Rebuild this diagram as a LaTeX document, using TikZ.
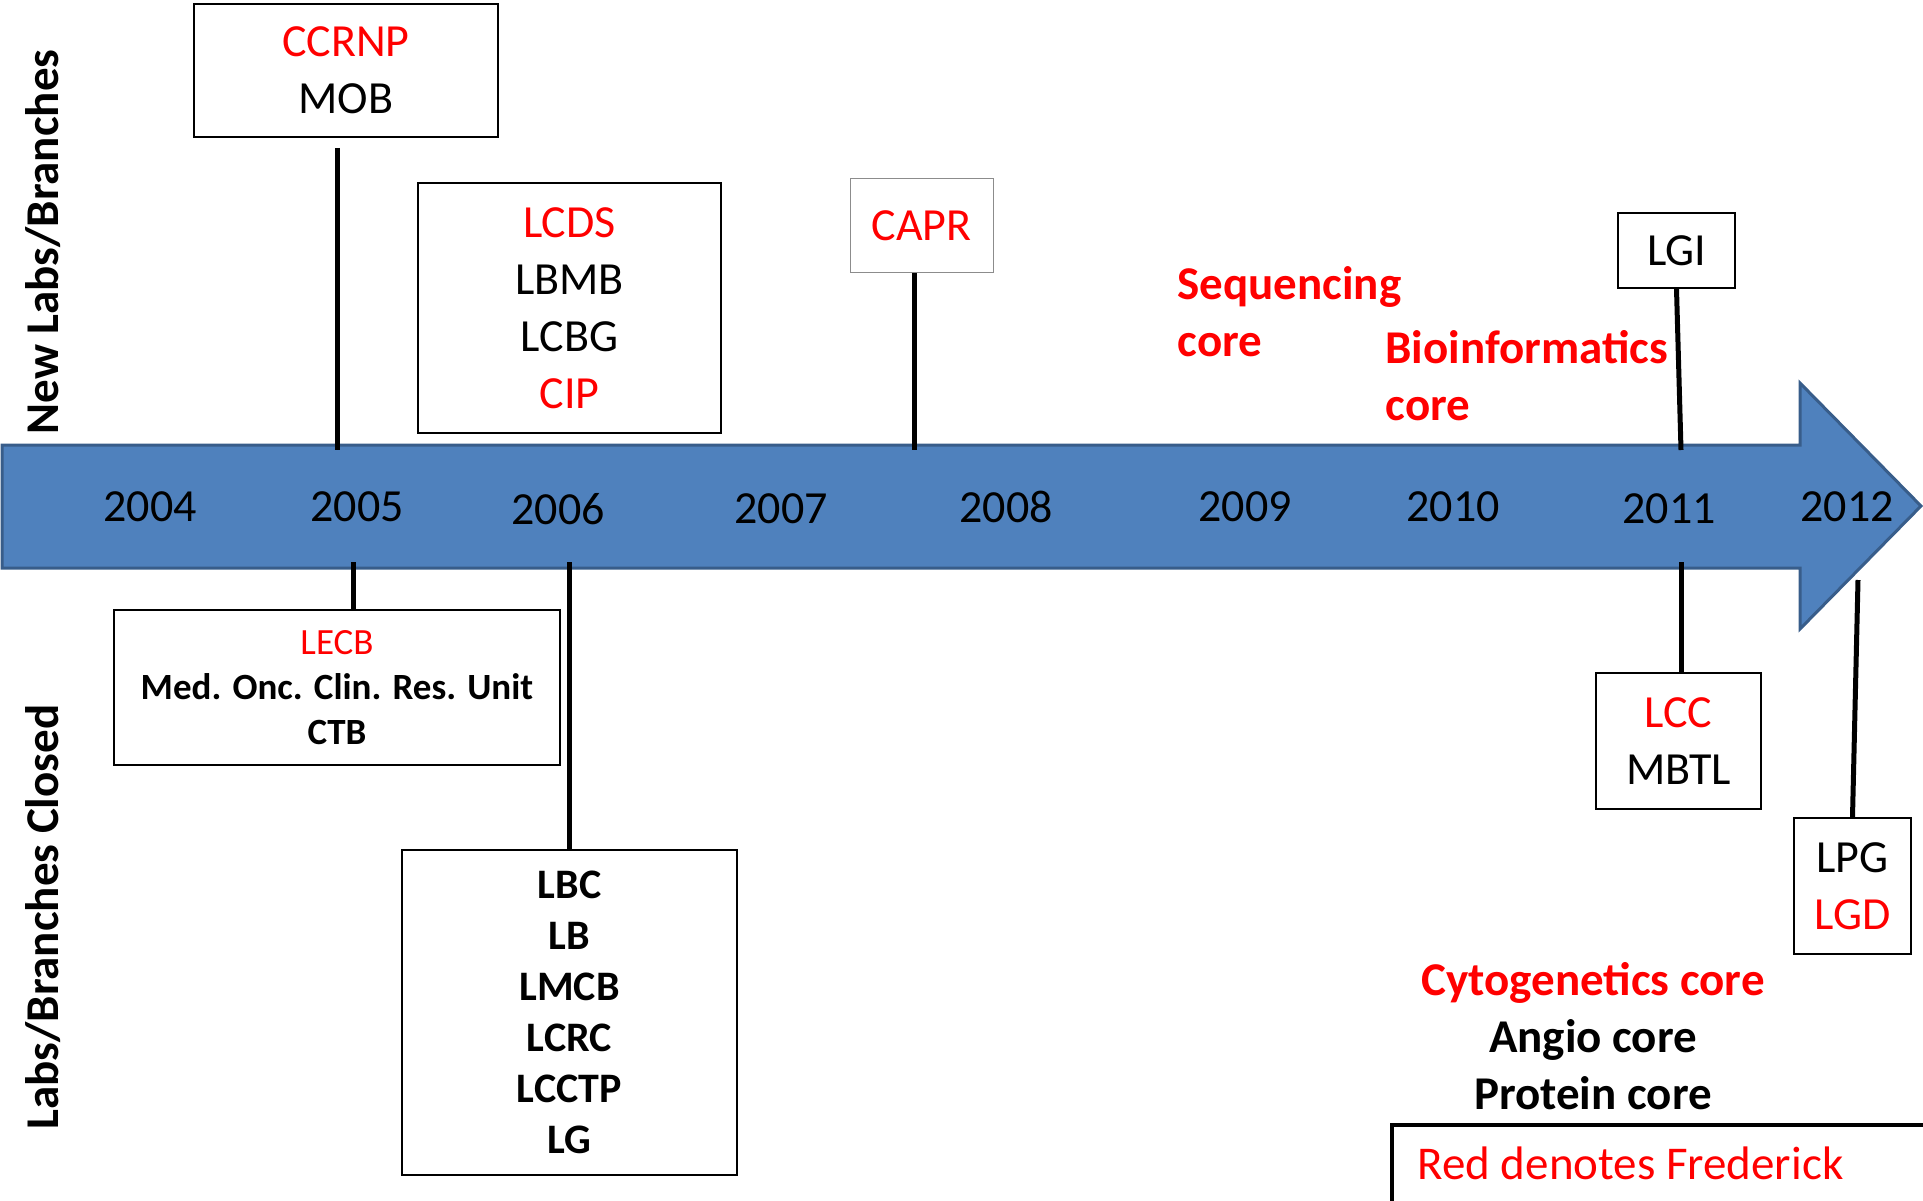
\documentclass[tikz,border=0pt]{standalone}
\usepackage{fontspec}
\setmainfont{Carlito}
\usetikzlibrary{positioning}

\definecolor{fred}{RGB}{255,0,0}
\definecolor{barfill}{RGB}{79,129,189}
\definecolor{barline}{RGB}{56,93,138}
\newcommand{\fr}[1]{\textcolor{fred}{#1}}

\tikzset{
  labbox/.style={draw=black, line width=1.8pt, fill=white, align=center, inner sep=0pt,
    font=\fontsize{46}{57}\selectfont},
  stem/.style={black, line width=5pt},
  yearlabel/.style={font=\fontsize{46}{55}\selectfont},
  sidelabel/.style={rotate=90, font=\fontsize{47}{57}\selectfont\bfseries},
  corelabel/.style={font=\fontsize{47}{57}\selectfont\bfseries, align=center},
}

\begin{document}
\begin{tikzpicture}[x=1pt, y=-1pt]
    \useasboundingbox (0,0) rectangle (1923,1201);

    % timeline arrow
    \draw[barline, line width=3pt, fill=barfill, line join=miter]
      (2,445) -- (1800,445) -- (1800,383) -- (1921,506) -- (1800,629) -- (1800,568) -- (2,568) -- cycle;
    \coordinate (bartop) at (0,450);
    \coordinate (barbot) at (0,562);
    \coordinate (lgiend) at (1681,450);
    \coordinate (lpgend) at (1858,580);

    \foreach \yr/\x/\y in {2004/150/507, 2005/357/507, 2006/558/509, 2007/781/509, 2008/1006/507,
                           2009/1245/507, 2010/1453/507, 2011/1669/509, 2012/1847/507} {
        \node[yearlabel] (y\yr) at (\x,\y) {\yr};
    }

    % side titles
    \node[sidelabel] (newlabs) at (43,242) {New Labs/Branches};
    \node[sidelabel] (closed) at (43,917) {Labs/Branches Closed};

    % new labs (above)
    \node[labbox, minimum width=304pt, minimum height=133pt] (ccrnp) at (346,70.5) {\fr{CCRNP}\\MOB};
    \node[labbox, minimum width=303pt, minimum height=250pt] (lcds) at (569.5,308) {\fr{LCDS}\\LBMB\\LCBG\\\fr{CIP}};
    \node[labbox, draw=black!45, line width=1pt, minimum width=143pt, minimum height=94pt] (capr) at (921.5,226) {\fr{CAPR}};
    \node[labbox, minimum width=117pt, minimum height=75pt] (lgi) at (1676.5,250.5) {LGI};

    \node[anchor=base west, align=left, text=fred, font=\fontsize{47}{57}\selectfont\bfseries] (seq) at (1174,356) {Sequencing\\core};
    \node[anchor=base west, align=left, text=fred, font=\fontsize{47}{57}\selectfont\bfseries] (bioinf) at (1382,420) {Bioinformatics\\core};

    % closed labs (below)
    \node[labbox, minimum width=446pt, minimum height=155pt, font=\fontsize{37}{45}\selectfont] (lecb) at (337,687.5)
      {\fr{LECB}\\\textbf{Med. Onc. Clin. Res. Unit}\\\textbf{CTB}};
    \node[labbox, minimum width=335pt, minimum height=325pt, font=\fontsize{42}{51}\selectfont\bfseries] (lbc) at (569.5,1012.5)
      {LBC\\LB\\LMCB\\LCRC\\LCCTP\\LG};
    \node[labbox, minimum width=165pt, minimum height=136pt] (lcc) at (1678.5,741) {\fr{LCC}\\MBTL};
    \node[labbox, minimum width=117pt, minimum height=136pt] (lpg) at (1852.5,886) {LPG\\\fr{LGD}};

    \node[corelabel] (cores) at (1593,1036) {\fr{Cytogenetics core}\\Angio core\\Protein core};

    % stems to the timeline
    \draw[stem] ([xshift=-9pt,yshift=-10pt]ccrnp.south) -- ([xshift=-9pt]ccrnp.south |- bartop);
    \draw[stem] ([xshift=-7pt]capr.south) -- ([xshift=-7pt]capr.south |- bartop);
    \draw[stem] (lgi.south) -- (lgiend);
    \draw[stem] ([xshift=16pt]lecb.north) -- ([xshift=16pt]lecb.north |- barbot);
    \draw[stem] (lbc.north) -- (lbc.north |- barbot);
    \draw[stem] ([xshift=2.5pt]lcc.north) -- ([xshift=2.5pt]lcc.north |- barbot);
    \draw[stem] (lpg.north) -- (lpgend);

    % legend
    \draw[black, line width=4pt] (1392,1125) rectangle (1935,1215);
    \node[anchor=west, text=fred, font=\fontsize{47}{57}\selectfont] (legend) at (1414,1163) {Red denotes Frederick};

\end{tikzpicture}
\end{document}
